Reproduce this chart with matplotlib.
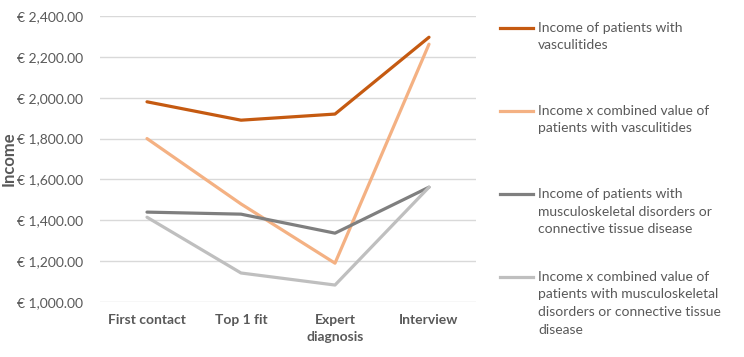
import numpy as np
import matplotlib.pyplot as plt
from matplotlib.lines import Line2D
from matplotlib.ticker import FuncFormatter

plt.rcParams['font.family'] = ['Lato', 'DejaVu Sans']

categories = ['First contact', 'Top 1 fit', 'Expert\ndiagnosis', 'Interview']
income_vasc = [1980, 1890, 1920, 2296]
income_x_vasc = [1800, 1480, 1190, 2262]
income_msk = [1440, 1430, 1337, 1562]
income_x_msk = [1415, 1142, 1083, 1562]

labels = [
    'Income of patients with\nvasculitides',
    'Income x combined value of\npatients with vasculitides',
    'Income of patients with\nmusculoskeletal disorders or\nconnective tissue disease',
    'Income x combined value of\npatients with musculoskeletal\ndisorders or connective tissue\ndisease',
]
colors = ['#C55A11', '#F4B183', '#7F7F7F', '#BFBFBF']
series = [income_vasc, income_x_vasc, income_msk, income_x_msk]
text_color = '#595959'

fig = plt.figure(figsize=(7.44, 3.57), dpi=100)
ax = fig.add_axes([100 / 744, 1 - 302 / 357, 376 / 744, 286 / 357])

x = np.arange(len(categories))
for vals, col in zip(series, colors):
    ax.plot(x, vals, color=col, lw=2.3, solid_capstyle='round', solid_joinstyle='round')

ax.set_xlim(-0.5, len(categories) - 0.5)
ax.set_ylim(1000, 2400)
ax.set_yticks(np.arange(1000, 2401, 200))
ax.yaxis.set_major_formatter(FuncFormatter(lambda v, p: f'\u20ac {v:,.2f}'))
ax.set_xticks(x)
ax.set_xticklabels(categories, fontweight='bold', color=text_color, fontsize=10)
for t in ax.get_xticklabels():
    t.set_linespacing(1.45)
ax.tick_params(axis='y', labelsize=10, labelcolor=text_color, length=0, pad=12)
ax.tick_params(axis='x', length=0, pad=9)
ax.grid(axis='y', color='#D9D9D9', lw=1)
ax.set_axisbelow(True)
for s in ax.spines.values():
    s.set_visible(False)
ax.set_ylabel('Income', fontweight='bold', color=text_color, fontsize=12)
ax.yaxis.set_label_coords(-83 / 376, 0.5)

# legend, drawn by hand in figure pixels to match spacing
tops = [28, 111, 194, 277]
for lab, col, ty in zip(labels, colors, tops):
    yf = 1 - ty / 357
    fig.add_artist(Line2D([500 / 744, 533 / 744], [yf, yf], color=col, lw=2.3,
                          transform=fig.transFigure))
    fig.text(538 / 744, yf + 6 / 357, lab, color=text_color, fontsize=10,
             va='top', ha='left', linespacing=1.55)

fig.savefig('out.png', dpi=100)
